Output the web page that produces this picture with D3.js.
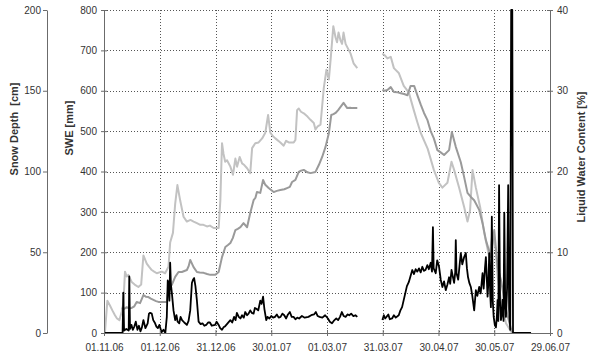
<!DOCTYPE html>
<html>
<head>
<meta charset="utf-8">
<script src="https://cdn.jsdelivr.net/npm/d3@7"></script>
<style>
  html, body { margin: 0; padding: 0; background: #fff; }
  svg { display: block; font-family: "Liberation Sans", Arial, sans-serif; }
</style>
</head>
<body>
<svg id="chart" width="590" height="359"></svg>
<script>
// Season start: days below are counted from 01.11.2006
const seasonStart = Date.UTC(2006, 10, 1);
const tickDays = [0, 30, 60, 90, 120, 150, 180, 210, 240];

// Snow depth [cm]  (null = data gap)
const sdDay = [0.5,1.8,3.2,4.5,5.9,7,8.3,9.5,10.4,11.3,12.2,13.1,14.9,16.5,18.5,20,21.2,23,24.3,25.7,27,28.4,31.1,32.9,34.7,35.6,37.1,38.3,39.5,41,42.8,44.6,46.5,48.2,50,51.8,53.5,55.4,57,59,61.7,62.6,63.5,64.3,65.2,66.2,68,69.4,70.7,71.6,73,74.3,75.5,77,78.7,79.7,81.4,83.2,85.1,86.8,88.3,89.5,90.8,92.2,94.9,96.7,98,99.4,102.1,103,103.9,104.8,106,107.5,109.5,111.1,112.9,113.8,115,116.5,118.3,119.7,121,122,123.4,124.6,125.4,126.2,127.3,128.1,128.9,130,132.7,134.3,136.3,
  143,
  149.8,151,152.5,154.3,156,158.6,161.3,164,166.7,168.5,170.4,174.2,177.5,180.2,182.1,184.8,187,188.4,191.1,193.8,195.6,197,198.3,200.1,202.4,204.6,207.3,209.1,210.9,211.8,213.6,216.3,219.5];
const sdCm = [0,20,17,14,11,9,8,13,18.5,38,35,36,31.6,30,28.5,30,48,43,41,39,38,37,38,37,41,56,62,80,91.6,82,72,69,70,69,68,67,67,66,66.5,65,65,82,117.5,111,106,107,103,98,108,103,109,105,104,102,99,114.5,117.5,118,120.5,124,135,124,122,120.5,118,116,119,118,118,119.5,138,139,137,136,134,132,130,126,128,129,152,163,157,170,190,183,180,186,181,179,186,179,173,167,164,
  null,
  173,172,170,171,164,161,153,149,138,131,124,114,101,93,90,93,106,101,90,78,69,76,101,90,78,62,47,62,51,35,20,6,0];

// Snow water equivalent [mm]
const sweDay = [9.5,11,12.2,13.5,14.9,16.3,17.6,19.4,21.2,22.5,23.9,25.2,26.6,28,29.3,32,33.8,34.7,36.5,38.3,40.1,41.9,44.6,45.5,46.4,48.2,50,51.5,53.6,55.5,57.2,59.9,61.7,63.5,65.3,66.7,68,69.3,70.7,72,73.4,75.1,77,78.7,80.5,81.5,82.3,84.1,85.6,86.8,88.6,91.3,93,94.9,97,98.5,100,101.2,103,104.8,106,107.5,109.5,111.1,113.8,115.6,117.4,119.2,121,122.3,123.5,124.6,126,127.3,128.9,130.9,132.5,133.6,136.3,
  143,
  149.8,151,152.5,154.3,156,158,159.7,161.5,163.3,165,166.9,168.6,170.5,172.2,174,175.8,177.5,179.4,181,183,185.7,187.2,189.3,192,193.8,195.6,197.4,199.2,201.9,203.7,205.5,208.2,210,211.8,213.6,216.3,219,220];
const sweMm = [62,60,64,61,62,66,77,74,94,90,89,85,82,79,77,77,77,114,119,139,151,151,156,165,181,163,151,150,149,146,144,144,151,188,213,218,223,235,255,258,262,272,262,297,329,335,349,347,379,367,359,349,352,354,356,359,362,374,379,399,402,404,398,396,399,416,436,461,495,540,542,545,552,560,570,557,558,557,557,
  null,
  602,600,602,609,597,596,594,592,589,612,612,589,565,545,528,500,482,453,448,441,453,498,461,423,386,347,337,329,305,272,230,188,255,163,131,60,10,0];

// Liquid water content [%]
const lwcDay = [0,10,10.4,10.8,12,13.3,13.6,14,14.8,15.5,16.3,17.1,18,18.8,19.6,20.4,21.2,22.3,23.5,24.2,24.8,25.7,26.5,27.5,28.2,29,29.8,31,32,33,33.8,34.3,34.7,35.2,35.6,36,36.5,37.4,38.3,39,39.6,40.5,41.2,42,43.2,44.6,45.5,46.4,47.3,47.9,48.5,49.2,50,50.9,52,53,54,55,56,57,58,59.8,60.6,61.7,62.5,63.5,64.3,65,66.5,68,69,70,70.8,71.5,72.5,73.4,74.3,75.2,76,77,77.8,78.7,79.5,80.5,81.2,82,83,84.1,84.8,85.6,86.3,87.3,88,89,90,91,92,93,94,95,96,97,98,99,100,101,102,103,104,105,106.5,108,110,111.5,113,114,115,116,117.5,119,120.5,121.5,122.7,123.6,125,126,127,128,129,130,131,132,133,134.2,135.3,136.3,
  143,
  149.8,150.6,151.3,152,153,153.8,155,156,157,158.6,159.5,160.4,161.3,162.2,163,164,165,165.9,166.8,167.7,168.6,169.5,170.4,171.3,172.2,173,174,174.8,175.8,176.5,177,177.4,178.5,179.3,180.3,181.2,182.1,183,183.9,184.8,185.7,186.3,187,187.7,188.4,189,189.3,189.7,190.6,191.3,192,192.8,193.8,194.7,195.3,195.9,196.6,197.4,198.2,199.2,200.1,200.9,201.9,202.7,203.7,204.3,205,205.5,206.4,206.9,207.3,207.8,208.2,208.7,209.2,209.7,210.3,210.9,211.4,211.8,212.2,212.6,213.1,213.6,214,214.5,215,215.4,215.9,216.3,216.9,217.5,218,218.6,219.1,219.7,220.1,229.8];
const lwcPct = [0,0,5,0.3,0.5,0.3,7,0.5,1,0.4,0.8,1.4,0.4,0.9,0.2,0.7,1.6,0.6,1.2,2.4,2.5,2.4,1.6,1.2,0.8,0.6,1,0.1,0.4,0,2,6.5,6.2,4,8.7,6,5,2.8,1.6,2.2,1.4,1.2,2,1.6,1.3,1,1.5,2.8,6.2,6.6,6.8,5.8,4,1.4,1.1,1.2,0.9,1,1.3,1.3,0.9,1,1.4,1,0.6,0.4,0.7,0.8,1.2,1.6,1.3,2,1.6,2.5,2,1.8,2.2,1.9,2.6,2.2,2.4,2.8,2.5,2.4,3.1,3,2.8,4,3.6,4.5,3,1.6,2,1.8,2.1,1.9,2,2.3,1.9,2,2.4,2.2,1.8,2.3,2.6,2,2,1.7,1.9,1.8,2.1,1.9,2,2.2,2.3,2.6,2.1,2,1.9,2.2,1.8,1.4,1.2,1.5,1.8,1.6,2,2.6,2.1,2,2.3,2.2,2.4,2.1,2.2,2,
  null,
  1.6,2.2,1.8,2,2.3,1.7,1.8,2.2,1.9,2.2,2.8,3.2,4.1,5,5.8,6.3,7.1,7.8,7.3,7.9,7.6,8,7.5,8.2,7.7,7.8,8.4,7.9,8.7,7.6,13.1,8,7.4,9,8.2,6.6,5.7,6.4,5.3,6,6.9,6.1,7.8,7,6.2,7.5,11.5,7.4,6.6,8.3,9.9,8.5,9.4,9.9,8,6.9,6.2,5.7,4.6,2.8,5.3,4.6,5.7,4.9,7.4,5.5,8,9.4,4.5,6.5,9.9,5,3.2,14.4,4,2,1,0.7,2,4.1,1.5,18.3,4,1.6,2.2,4.1,1.5,14.9,3.5,2,5.5,18.3,3,0.4,40,40,0,0];

const sweTicks = [0, 100, 200, 300, 400, 500, 600, 700, 800];
const sdTicks = [0, 50, 100, 150, 200];
const lwcTicks = [0, 10, 20, 30, 40];

// ---- layout ----
const W = 590, H = 359;
const plot = { left: 104, right: 550, top: 10, bottom: 333 };
const sdAxisX = 47;

const svg = d3.select("#chart");
const dayMs = 86400000;
const toDate = d => new Date(seasonStart + d * dayMs);

const x = d3.scaleUtc()
  .domain([toDate(0), toDate(240)])
  .range([plot.left, plot.right]);
const ySwe = d3.scaleLinear().domain([0, 800]).range([plot.bottom, plot.top]);
const ySd = d3.scaleLinear().domain([0, 200]).range([plot.bottom, plot.top]);
const yLwc = d3.scaleLinear().domain([0, 40]).range([plot.bottom, plot.top]);

const axisColor = "#6b6b6b";
const textColor = "#333";
const fontSize = "10px";

// ---- grid ----
const grid = svg.append("g").attr("class", "grid")
  .attr("stroke", "#555").attr("stroke-width", 1).attr("stroke-dasharray", "1,2");
grid.selectAll("line.h").data(sweTicks.filter(v => v > 0)).join("line")
  .attr("class", "h")
  .attr("x1", plot.left).attr("x2", plot.right)
  .attr("y1", d => Math.round(ySwe(d)) + 0.5).attr("y2", d => Math.round(ySwe(d)) + 0.5);
grid.selectAll("line.v").data(tickDays.slice(1, -1)).join("line")
  .attr("class", "v")
  .attr("y1", plot.top).attr("y2", plot.bottom)
  .attr("x1", d => Math.round(x(toDate(d))) + 0.5).attr("x2", d => Math.round(x(toDate(d))) + 0.5);

// ---- series ----
svg.append("defs").append("clipPath").attr("id", "plotClip")
  .append("rect")
  .attr("x", plot.left).attr("y", plot.top - 1)
  .attr("width", plot.right - plot.left).attr("height", plot.bottom - plot.top + 1);

const series = svg.append("g").attr("clip-path", "url(#plotClip)");

function drawSeries(days, values, yScale, color, width) {
  const pts = days.map((d, i) => ({ t: toDate(d), v: values[i] }));
  const line = d3.line()
    .defined(p => p.v !== null)
    .x(p => x(p.t))
    .y(p => yScale(p.v));
  series.append("path")
    .datum(pts)
    .attr("fill", "none")
    .attr("stroke", color)
    .attr("stroke-width", width)
    .attr("stroke-linejoin", "round")
    .attr("d", line);
}

drawSeries(sdDay, sdCm, ySd, "#c2c2c2", 2);
drawSeries(sweDay, sweMm, ySwe, "#9a9a9a", 2);
drawSeries(lwcDay, lwcPct, yLwc, "#000000", 1.8);

// ---- axes ----
function styleAxis(g) {
  g.select(".domain").attr("stroke", axisColor);
  g.selectAll(".tick line").attr("stroke", axisColor);
  g.selectAll(".tick text").attr("fill", textColor).style("font-size", fontSize)
    .style("font-family", "'Liberation Sans', Arial, sans-serif");
}

// SWE axis (crossing ticks)
const gSwe = svg.append("g")
  .attr("transform", `translate(${plot.left},0)`)
  .call(d3.axisLeft(ySwe).tickValues(sweTicks).tickSize(3).tickSizeOuter(0).tickPadding(4));
gSwe.selectAll(".tick line").attr("x1", 3);
styleAxis(gSwe);

// Snow depth axis
const gSd = svg.append("g")
  .attr("transform", `translate(${sdAxisX},0)`)
  .call(d3.axisLeft(ySd).tickValues(sdTicks).tickSize(4).tickSizeOuter(0).tickPadding(2));
styleAxis(gSd);

// Liquid water content axis
const gLwc = svg.append("g")
  .attr("transform", `translate(${plot.right},0)`)
  .call(d3.axisRight(yLwc).tickValues(lwcTicks).tickSize(3).tickSizeOuter(0).tickPadding(4));
gLwc.selectAll(".tick line").attr("x1", -3);
styleAxis(gLwc);

// Time axis
const gX = svg.append("g")
  .attr("transform", `translate(0,${plot.bottom})`)
  .call(d3.axisBottom(x)
    .tickValues(tickDays.map(toDate))
    .tickFormat(d3.utcFormat("%d.%m.%y"))
    .tickSize(3).tickSizeOuter(0).tickPadding(8));
gX.selectAll(".tick line").attr("y1", -3);
styleAxis(gX);

// ---- axis titles ----
function vTitle(cx, cy, text) {
  svg.append("text")
    .attr("transform", `translate(${cx},${cy}) rotate(-90)`)
    .attr("text-anchor", "middle")
    .attr("dominant-baseline", "central")
    .attr("fill", textColor)
    .style("font-size", "11px")
    .style("font-weight", "bold")
    .style("white-space", "pre")
    .text(text);
}
vTitle(14, 129, "Snow Depth  [cm]");
vTitle(69, 128, "SWE [mm]");
vTitle(581, 157, "Liquid Water Content [%]");
</script>
</body>
</html>
